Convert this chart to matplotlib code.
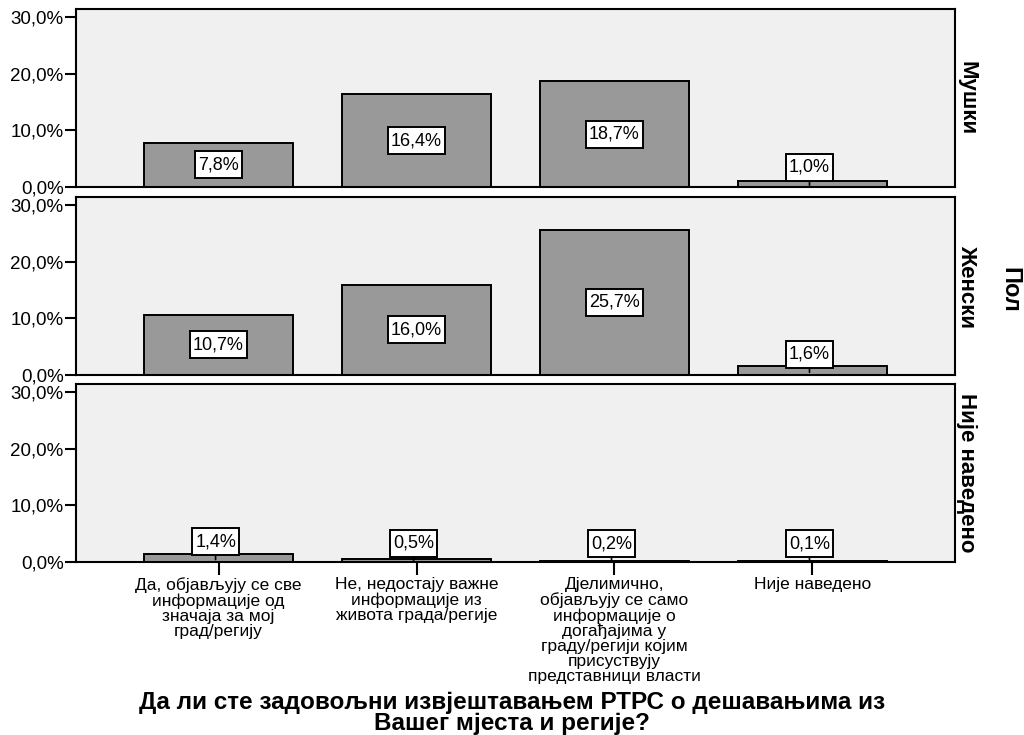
import matplotlib
matplotlib.use("Agg")
import matplotlib.pyplot as plt
from matplotlib.path import Path
from matplotlib.ticker import FixedLocator, FuncFormatter

plt.rcParams["font.family"] = ["Liberation Sans", "DejaVu Sans"]

categories = [
    "Да, објављују се све\nинформације од\nзначаја за мој\nград/регију",
    "Не, недостају важне\nинформације из\nживота града/регије",
    "Дјелимично,\nобјављују се само\nинформације о\nдогађајима у\nграду/регији којим\nприсуствују\nпредставници власти",
    "Није наведено",
]
groups = ["Мушки", "Женски", "Није наведено"]
values = {
    "Мушки": [7.8, 16.4, 18.7, 1.0],
    "Женски": [10.7, 16.0, 25.7, 1.6],
    "Није наведено": [1.4, 0.5, 0.2, 0.1],
}
y_ticks = [0, 10, 20, 30]
x_title = "Да ли сте задовољни извјештавањем РТРС о дешавањима из\nВашег мјеста и регије?"
strip_title = "Пол"


def pct(v):
    return f"{v:.1f}%".replace(".", ",")


def label_box(x0, y0, width, height, mutation_size):
    # tight horizontal padding, fixed-height frame around the value label
    padx = 3.0
    half = 13.5
    cy = y0 + height / 2
    verts = [(x0 - padx, cy - half), (x0 + width + padx, cy - half),
             (x0 + width + padx, cy + half), (x0 - padx, cy + half),
             (x0 - padx, cy - half)]
    codes = [Path.MOVETO, Path.LINETO, Path.LINETO, Path.LINETO, Path.CLOSEPOLY]
    return Path(verts, codes)


W, H = 1024, 735
fig = plt.figure(figsize=(W / 100, H / 100), dpi=100)

left, right = 76, 955
panel_tops = [9, 197, 384]
panel_h = 178

bar_color = "#999999"
bg_color = "#f0f0f0"

for gi, (grp, top) in enumerate(zip(groups, panel_tops)):
    ax = fig.add_axes([left / W, 1 - (top + panel_h) / H, (right - left) / W, panel_h / H])
    ax.set_facecolor(bg_color)
    vals = values[grp]
    xs = list(range(len(categories)))
    ax.bar(xs, vals, width=0.75, color=bar_color, edgecolor="black", linewidth=1.4, zorder=2)
    ax.set_xlim(-0.72, 3.72)
    ax.set_ylim(0, 31.5)
    ax.yaxis.set_major_locator(FixedLocator(y_ticks))
    ax.yaxis.set_major_formatter(FuncFormatter(lambda v, p: pct(v)))
    ax.tick_params(axis="y", direction="out", length=8, width=1.5, labelsize=13.5, pad=1)
    for s in ax.spines.values():
        s.set_linewidth(1.5)
    if gi < 2:
        ax.set_xticks([])
    else:
        ax.set_xticks(xs)
        ax.set_xticklabels(categories, fontsize=12.5, linespacing=1.0)
        ax.tick_params(axis="x", direction="out", length=9, width=1.5, pad=2)
    box = dict(boxstyle=label_box, fc="white", ec="black", lw=1.4)
    for x, v in zip(xs, vals):
        if v > 5:
            ax.text(x, v / 2, pct(v), ha="center", va="center", fontsize=13, bbox=box, zorder=4)
        else:
            ax.annotate(pct(v), xy=(x - 0.015, v * 0.3), xytext=(0, 13), textcoords="offset points",
                        ha="center", va="center", fontsize=13, bbox=box, zorder=4,
                        arrowprops=dict(arrowstyle="-", lw=1.2, color="black",
                                        shrinkA=0, shrinkB=0))
    fig.text((right + 12) / W, 1 - (top + panel_h / 2) / H, grp, rotation=-90,
             ha="center", va="center", fontsize=16, fontweight="bold")

fig.text(1010 / W, 1 - 290 / H, strip_title, rotation=-90, ha="center", va="center",
         fontsize=17, fontweight="bold")
fig.text(512 / W, 1 - 713 / H, x_title, ha="center", va="center", fontsize=17.5,
         fontweight="bold", linespacing=0.9)

fig.savefig("out.png", dpi=100)
